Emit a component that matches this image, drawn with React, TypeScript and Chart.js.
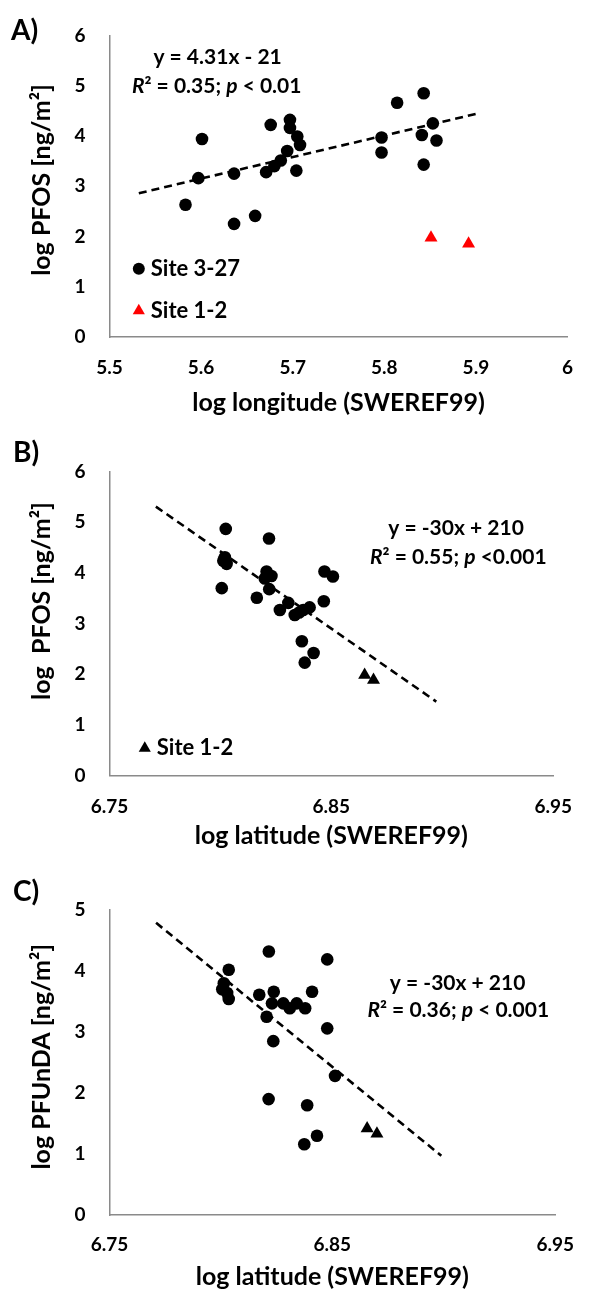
import React, { useEffect, useRef } from 'react';
import { Chart, registerables } from 'chart.js';

Chart.register(...registerables);

const FAMILY = 'Lato, "Open Sans", "DejaVu Sans", sans-serif';
const TICK_SIZE = 19;
const TITLE_SIZE = 25;
const NOTE_SIZE = 21;
const LEGEND_SIZE = 22;
const LABEL_SIZE = 28;
const AXIS_COLOR = '#8a8a8a';

// ---------- Panel A : log PFOS vs log longitude ----------
const A_CIRCLE_X = [5.583, 5.597, 5.601, 5.636, 5.636, 5.659, 5.671, 5.676, 5.680, 5.687, 5.694, 5.697, 5.697, 5.704, 5.705, 5.708, 5.797, 5.797, 5.814, 5.841, 5.843, 5.843, 5.853, 5.857];
const A_CIRCLE_Y = [2.63, 3.16, 3.94, 3.25, 2.25, 2.41, 3.28, 4.22, 3.40, 3.51, 3.70, 4.32, 4.16, 3.31, 3.99, 3.82, 3.97, 3.67, 4.66, 4.02, 4.85, 3.43, 4.25, 3.91];
const A_TRI_X = [5.851, 5.892];
const A_TRI_Y = [1.975, 1.855];
const A_TREND_X = [5.532, 5.903];
const A_TREND_Y = [2.86, 4.45];
const A_X_TICKS = [5.5, 5.6, 5.7, 5.8, 5.9, 6.0];
const A_X_TICK_LABELS = ['5.5', '5.6', '5.7', '5.8', '5.9', '6'];
const A_Y_TICKS = [0, 1, 2, 3, 4, 5, 6];
const A_Y_TICK_LABELS = ['0', '1', '2', '3', '4', '5', '6'];

// ---------- Panel B : log PFOS vs log latitude ----------
const B_CIRCLE_X = [6.8024, 6.8219, 6.8020, 6.8013, 6.8028, 6.8006, 6.8208, 6.8230, 6.8200, 6.8220, 6.8164, 6.8306, 6.8268, 6.8335, 6.8373, 6.8402, 6.8355, 6.8469, 6.8507, 6.8466, 6.8367, 6.8420, 6.8380];
const B_CIRCLE_Y = [4.87, 4.68, 4.31, 4.24, 4.18, 3.70, 4.03, 3.94, 3.89, 3.68, 3.51, 3.41, 3.27, 3.17, 3.27, 3.32, 3.22, 4.03, 3.93, 3.44, 2.65, 2.42, 2.23];
const B_TRI_X = [6.8650, 6.8690];
const B_TRI_Y = [1.985, 1.885];
const B_TREND_X = [6.7709, 6.8973];
const B_TREND_Y = [5.31, 1.46];
const LAT_X_TICKS = [6.75, 6.85, 6.95];
const LAT_X_TICK_LABELS = ['6.75', '6.85', '6.95'];
const B_Y_TICKS = [0, 1, 2, 3, 4, 5, 6];
const B_Y_TICK_LABELS = ['0', '1', '2', '3', '4', '5', '6'];

// ---------- Panel C : log PFUnDA vs log latitude ----------
const C_CIRCLE_X = [6.8215, 6.8477, 6.8035, 6.8013, 6.8006, 6.8028, 6.8035, 6.8172, 6.8237, 6.8229, 6.8280, 6.8309, 6.8340, 6.8378, 6.8409, 6.8205, 6.8235, 6.8477, 6.8512, 6.8214, 6.8387, 6.8431, 6.8374];
const C_CIRCLE_Y = [4.32, 4.19, 4.02, 3.80, 3.70, 3.64, 3.54, 3.61, 3.66, 3.47, 3.47, 3.39, 3.47, 3.39, 3.66, 3.25, 2.85, 3.06, 2.28, 1.90, 1.80, 1.30, 1.16];
const C_TRI_X = [6.8656, 6.8700];
const C_TRI_Y = [1.42, 1.33];
const C_TREND_X = [6.7709, 6.8989];
const C_TREND_Y = [4.79, 0.97];
const C_Y_TICKS = [0, 1, 2, 3, 4, 5];
const C_Y_TICK_LABELS = ['0', '1', '2', '3', '4', '5'];

type Run = { t: string; i?: boolean };
type Note = { runs: Run[]; x: number; y: number; align: 'center' | 'left' };
type Marker = { kind: 'circle' | 'triangle'; color: string; x: number; y: number };

const zip = (xs: number[], ys: number[]) => xs.map((x, k) => ({ x, y: ys[k] }));

function drawRuns(ctx: CanvasRenderingContext2D, runs: Run[], x: number, y: number, size: number, align: 'center' | 'left') {
  const fonts = runs.map(r => `${r.i ? 'italic ' : ''}bold ${size}px ${FAMILY}`);
  let total = 0;
  const widths = runs.map((r, k) => {
    ctx.font = fonts[k];
    const w = ctx.measureText(r.t).width;
    total += w;
    return w;
  });
  let cx = align === 'center' ? x - total / 2 : x;
  ctx.textBaseline = 'middle';
  ctx.textAlign = 'left';
  ctx.fillStyle = '#000';
  runs.forEach((r, k) => {
    ctx.font = fonts[k];
    ctx.fillText(r.t, cx, y);
    cx += widths[k];
  });
}

function drawMarker(ctx: CanvasRenderingContext2D, m: Marker, px: number, py: number) {
  ctx.fillStyle = m.color;
  ctx.beginPath();
  if (m.kind === 'circle') {
    ctx.arc(px, py, 6, 0, Math.PI * 2);
  } else {
    const r = 7;
    for (let k = 0; k < 3; k++) {
      const a = (k * 2 * Math.PI) / 3;
      const vx = px + Math.sin(a) * r;
      const vy = py - Math.cos(a) * r;
      if (k === 0) ctx.moveTo(vx, vy); else ctx.lineTo(vx, vy);
    }
    ctx.closePath();
  }
  ctx.fill();
}

type PanelSpec = {
  top: number;
  height: number;
  padTop: number;
  xHeight: number;
  xTickPad: number;
  xTitlePad: number;
  xMin: number;
  xMax: number;
  xTicks: number[];
  xTickLabels: string[];
  yMax: number;
  yTicks: number[];
  yTickLabels: string[];
  xTitle: string;
  yTitle: string;
  yTitlePos: [number, number];
  label: string;
  labelPos: [number, number];
  circles: { x: number; y: number }[];
  triangles: { x: number; y: number }[];
  triColor: string;
  trend: { x: number; y: number }[];
  notes: Note[];
  legend: { marker: Marker; text: string }[];
};

const PANELS: PanelSpec[] = [
  {
    top: 0, height: 425, padTop: 33.5, xHeight: 88, xTickPad: 19, xTitlePad: 7.5,
    xMin: 5.5, xMax: 6.0, xTicks: A_X_TICKS, xTickLabels: A_X_TICK_LABELS,
    yMax: 6, yTicks: A_Y_TICKS, yTickLabels: A_Y_TICK_LABELS,
    xTitle: 'log longitude (SWEREF99)', yTitle: 'log PFOS [ng/m²]', yTitlePos: [42, 180],
    label: 'A)', labelPos: [11, 31],
    circles: zip(A_CIRCLE_X, A_CIRCLE_Y), triangles: zip(A_TRI_X, A_TRI_Y), triColor: '#ff0000',
    trend: zip(A_TREND_X, A_TREND_Y),
    notes: [
      { runs: [{ t: 'y = 4.31x - 21' }], x: 5.618, y: 5.575, align: 'center' },
      { runs: [{ t: 'R', i: true }, { t: '² = 0.35; ' }, { t: 'p', i: true }, { t: ' < 0.01' }], x: 5.617, y: 4.98, align: 'center' },
    ],
    legend: [
      { marker: { kind: 'circle', color: '#000', x: 5.532, y: 1.36 }, text: 'Site 3-27' },
      { marker: { kind: 'triangle', color: '#ff0000', x: 5.532, y: 0.52 }, text: 'Site 1-2' },
    ],
  },
  {
    top: 425, height: 435, padTop: 46.7, xHeight: 84.5, xTickPad: 20, xTitlePad: 9.5,
    xMin: 6.75, xMax: 6.95, xTicks: LAT_X_TICKS, xTickLabels: LAT_X_TICK_LABELS,
    yMax: 6, yTicks: B_Y_TICKS, yTickLabels: B_Y_TICK_LABELS,
    xTitle: 'log latitude (SWEREF99)', yTitle: 'log  PFOS [ng/m²]', yTitlePos: [42, 176],
    label: 'B)', labelPos: [13, 28],
    circles: zip(B_CIRCLE_X, B_CIRCLE_Y), triangles: zip(B_TRI_X, B_TRI_Y), triColor: '#000',
    trend: zip(B_TREND_X, B_TREND_Y),
    notes: [
      { runs: [{ t: 'y = -30x + 210' }], x: 6.9062, y: 4.89, align: 'center' },
      { runs: [{ t: 'R', i: true }, { t: '² = 0.55; ' }, { t: 'p', i: true }, { t: ' <0.001' }], x: 6.9072, y: 4.32, align: 'center' },
    ],
    legend: [
      { marker: { kind: 'triangle', color: '#000', x: 6.7659, y: 0.54 }, text: 'Site 1-2' },
    ],
  },
  {
    top: 860, height: 432, padTop: 50, xHeight: 77, xTickPad: 18, xTitlePad: 0,
    xMin: 6.75, xMax: 6.95, xTicks: LAT_X_TICKS, xTickLabels: LAT_X_TICK_LABELS,
    yMax: 5, yTicks: C_Y_TICKS, yTickLabels: C_Y_TICK_LABELS,
    xTitle: 'log latitude (SWEREF99)', yTitle: 'log PFUnDA [ng/m²]', yTitlePos: [42, 196.7],
    label: 'C)', labelPos: [13, 31.7],
    circles: zip(C_CIRCLE_X, C_CIRCLE_Y), triangles: zip(C_TRI_X, C_TRI_Y), triColor: '#000',
    trend: zip(C_TREND_X, C_TREND_Y),
    notes: [
      { runs: [{ t: 'y = -30x + 210' }], x: 6.9062, y: 3.80, align: 'center' },
      { runs: [{ t: 'R', i: true }, { t: '² = 0.36; ' }, { t: 'p', i: true }, { t: ' < 0.001' }], x: 6.9065, y: 3.36, align: 'center' },
    ],
    legend: [],
  },
];

function Panel({ spec }: { spec: PanelSpec }) {
  const ref = useRef<HTMLCanvasElement | null>(null);
  useEffect(() => {
    if (!ref.current) return;
    const overlay = {
      id: 'overlay' + spec.label,
      afterDraw(chart: any) {
        const ctx: CanvasRenderingContext2D = chart.ctx;
        const xs = chart.scales.x;
        const ys = chart.scales.y;
        ctx.save();
        ctx.font = `bold ${LABEL_SIZE}px ${FAMILY}`;
        ctx.fillStyle = '#000';
        ctx.textAlign = 'left';
        ctx.textBaseline = 'middle';
        ctx.fillText(spec.label, spec.labelPos[0], spec.labelPos[1]);
        ctx.save();
        ctx.translate(spec.yTitlePos[0], spec.yTitlePos[1]);
        ctx.rotate(-Math.PI / 2);
        ctx.font = `bold ${TITLE_SIZE}px ${FAMILY}`;
        ctx.textAlign = 'center';
        ctx.textBaseline = 'middle';
        ctx.fillText(spec.yTitle, 0, 0);
        ctx.restore();
        spec.notes.forEach(n => {
          drawRuns(ctx, n.runs, xs.getPixelForValue(n.x), ys.getPixelForValue(n.y), NOTE_SIZE, n.align);
        });
        spec.legend.forEach(l => {
          const px = xs.getPixelForValue(l.marker.x);
          const py = ys.getPixelForValue(l.marker.y);
          drawMarker(ctx, l.marker, px, py);
          drawRuns(ctx, [{ t: l.text }], px + 12, py, LEGEND_SIZE, 'left');
        });
        ctx.restore();
      },
    };
    const chart = new Chart(ref.current, {
      type: 'scatter',
      data: {
        datasets: [
          {
            label: 'Site 3-27',
            data: spec.circles,
            pointStyle: 'circle',
            pointRadius: 6.3,
            backgroundColor: '#000',
            borderWidth: 0,
          },
          {
            label: 'Site 1-2',
            data: spec.triangles,
            pointStyle: 'triangle',
            pointRadius: 7.5,
            backgroundColor: spec.triColor,
            borderWidth: 0,
          },
          {
            label: 'trend',
            data: spec.trend,
            showLine: true,
            pointRadius: 0,
            borderColor: '#000',
            borderWidth: 2.6,
            borderDash: [8, 5],
            fill: false,
          } as any,
        ],
      },
      options: {
        responsive: false,
        animation: false,
        events: [],
        layout: { padding: { top: spec.padTop, right: 21, left: 0, bottom: 0 } },
        plugins: { legend: { display: false }, tooltip: { enabled: false } },
        scales: {
          x: {
            type: 'linear',
            min: spec.xMin,
            max: spec.xMax,
            afterBuildTicks: (s: any) => { s.ticks = spec.xTicks.map(v => ({ value: v })); },
            afterFit: (s: any) => { s.height = spec.xHeight; },
            ticks: {
              callback: (_v: any, i: number) => spec.xTickLabels[i],
              font: { family: FAMILY, size: TICK_SIZE, weight: 'bold' },
              color: '#000',
              padding: spec.xTickPad,
              maxRotation: 0,
              autoSkip: false,
            },
            grid: { display: false, drawTicks: false },
            border: { display: true, color: AXIS_COLOR, width: 1.5 },
            title: {
              display: true,
              text: spec.xTitle,
              color: '#000',
              font: { family: FAMILY, size: TITLE_SIZE, weight: 'bold' },
              padding: { top: 0, bottom: spec.xTitlePad },
            },
          },
          y: {
            type: 'linear',
            min: 0,
            max: spec.yMax,
            afterBuildTicks: (s: any) => { s.ticks = spec.yTicks.map(v => ({ value: v })); },
            afterFit: (s: any) => { s.width = 109.5; },
            ticks: {
              callback: (_v: any, i: number) => spec.yTickLabels[i],
              font: { family: FAMILY, size: TICK_SIZE, weight: 'bold' },
              color: '#000',
              padding: 24,
            },
            grid: { display: false, drawTicks: false },
            border: { display: true, color: AXIS_COLOR, width: 1.5 },
          },
        },
      } as any,
      plugins: [overlay],
    });
    return () => chart.destroy();
  }, [spec]);
  return (
    <canvas
      ref={ref}
      width={592}
      height={spec.height}
      style={{ position: 'absolute', left: 0, top: spec.top, width: 592, height: spec.height, display: 'block' }}
    />
  );
}

export default function App() {
  return (
    <div style={{ position: 'absolute', left: 0, top: 0, width: 592, height: 1292, background: '#fff', overflow: 'hidden' }}>
      {PANELS.map(p => (
        <Panel key={p.label} spec={p} />
      ))}
    </div>
  );
}
